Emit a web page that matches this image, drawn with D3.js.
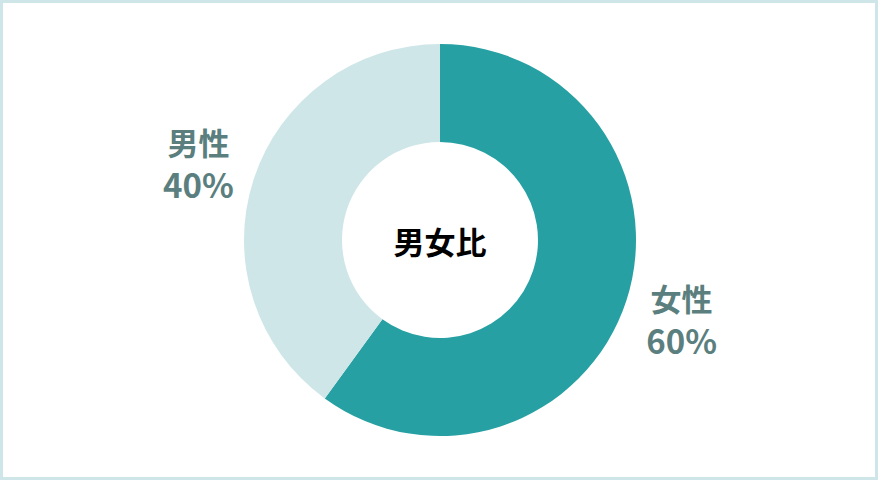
<!DOCTYPE html>
<html>
<head>
<meta charset="utf-8">
<script src="https://cdn.jsdelivr.net/npm/d3@7"></script>
<style>
  body { margin: 0; background: #fff; }
  svg { display: block; }
</style>
</head>
<body>
<svg id="chart"></svg>
<script>
const svg_width = 880;
const svg_height = 480;

// data
const categories = ['女性', '男性'];
const values = [60, 40];
const labels = ['60%', '40%'];
const colors = ['#26a0a3', '#cfe6e8'];
const title = '男女比';

const svg = d3.select('#chart')
  .attr('width', svg_width)
  .attr('height', svg_height);

// frame
svg.append('rect')
  .attr('x', 1.5).attr('y', 1.5)
  .attr('width', 875).attr('height', 477)
  .attr('fill', '#fff')
  .attr('stroke', '#cfe6e8')
  .attr('stroke-width', 3);

const cx = 440, cy = 240;
const outerR = 196, innerR = 98;

const g = svg.append('g').attr('transform', `translate(${cx}, ${cy})`);

const pie = d3.pie().sort(null).value(d => d);
const arcs = pie(values);
const arc = d3.arc().innerRadius(innerR).outerRadius(outerR);

g.selectAll('path')
  .data(arcs)
  .enter().append('path')
  .attr('d', arc)
  .attr('fill', (d, i) => colors[i]);

// labels outside the ring
const labelArc = d3.arc().innerRadius(outerR + 58).outerRadius(outerR + 58);
const font = '"Noto Sans CJK JP", "Noto Sans", sans-serif';

arcs.forEach((d, i) => {
  const [lx, ly] = labelArc.centroid(d);
  const t = g.append('text')
    .attr('text-anchor', 'middle')
    .attr('fill', '#5a7f7e')
    .attr('font-family', font)
    .attr('font-weight', 700)
    .attr('font-size', '31px');
  t.append('tspan').attr('x', lx).attr('y', ly - 7).text(categories[i]);
  t.append('tspan').attr('x', lx).attr('y', ly + 36).attr('font-size', '33px').text(labels[i]);
});

g.append('text')
  .attr('text-anchor', 'middle')
  .attr('dominant-baseline', 'central')
  .attr('font-family', font)
  .attr('font-weight', 700)
  .attr('font-size', '31px')
  .attr('fill', '#000')
  .text(title);
</script>
</body>
</html>
